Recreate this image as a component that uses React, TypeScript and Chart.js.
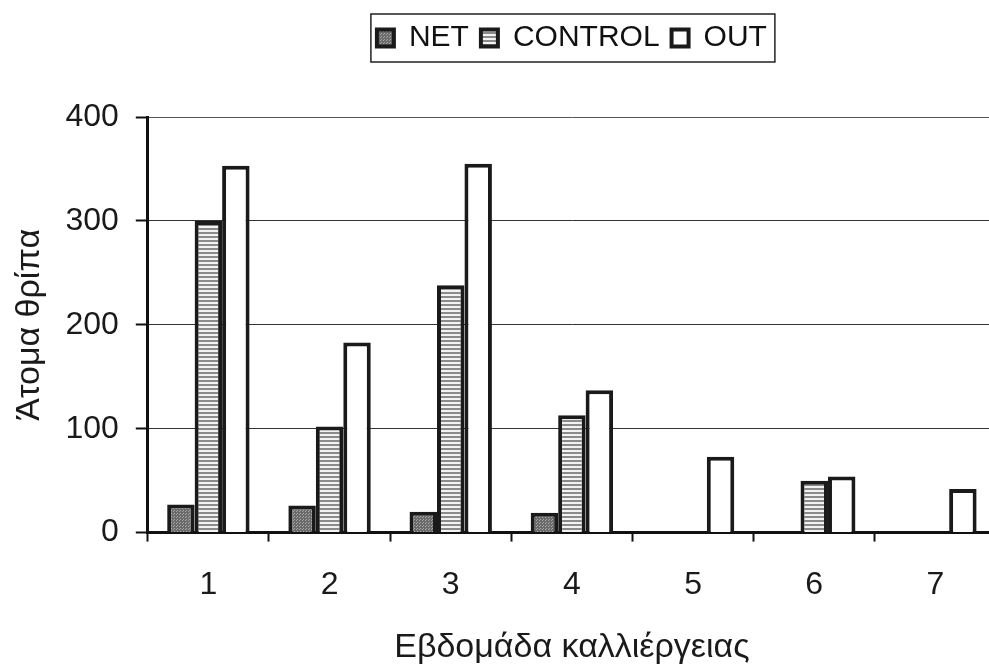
import React, { useEffect, useRef } from "react";
import { Chart, registerables } from "chart.js";

Chart.register(...registerables);

const categories = ["1", "2", "3", "4", "5", "6", "7"];
const seriesNames = ["NET", "CONTROL", "OUT"];
const netValues = [27, 26, 20, 19, 0, 0, 0];
const controlValues = [300, 102, 238, 113, 0, 50, 0];
const outValues = [353, 183, 355, 137, 73, 54, 42];
const yTicks = [0, 100, 200, 300, 400];
const yTitle = "Άτομα θρίπα";
const xTitle = "Εβδομάδα καλλιέργειας";

const FONT = "'Liberation Sans', Arial, sans-serif";

function makePattern(w: number, h: number, draw: (ctx: CanvasRenderingContext2D) => void) {
  const c = document.createElement("canvas");
  c.width = w;
  c.height = h;
  const ctx = c.getContext("2d")!;
  draw(ctx);
  return ctx.createPattern(c, "repeat") as CanvasPattern;
}

const nz = (arr: number[]) => arr.map((v) => (v === 0 ? null : v));

const legendBoxPlugin = {
  id: "legendBox",
  afterDraw(chart: any) {
    const lg = chart.legend;
    if (!lg || !lg.legendHitBoxes || !lg.legendHitBoxes.length) return;
    const boxes = lg.legendHitBoxes;
    const left = boxes[0].left - 6;
    const last = boxes[boxes.length - 1];
    const right = last.left + last.width + 8;
    const top = boxes[0].top - 9;
    const bottom = boxes[0].top + boxes[0].height + 9;
    const ctx = chart.ctx;
    ctx.save();
    ctx.strokeStyle = "#222";
    ctx.lineWidth = 1.5;
    ctx.strokeRect(left, top, right - left, bottom - top);
    ctx.restore();
  },
};

export default function App() {
  const ref = useRef<HTMLCanvasElement>(null);
  useEffect(() => {
    if (!ref.current) return;
    const netPattern = makePattern(3, 3, (ctx) => {
      ctx.fillStyle = "#6a6a6a";
      ctx.fillRect(0, 0, 3, 3);
      ctx.fillStyle = "#a8a8a8";
      ctx.fillRect(0, 0, 1, 1);
      ctx.fillRect(2, 1, 1, 1);
    });
    const controlPattern = makePattern(4, 4, (ctx) => {
      ctx.fillStyle = "#f2f2f2";
      ctx.fillRect(0, 0, 4, 4);
      ctx.fillStyle = "#8a8a8a";
      ctx.fillRect(0, 0, 4, 2);
    });
    const chart = new Chart(ref.current, {
      type: "bar",
      data: {
        labels: categories,
        datasets: [
          { label: seriesNames[0], data: nz(netValues), backgroundColor: netPattern, borderColor: "#1a1a1a", borderWidth: 4 },
          { label: seriesNames[1], data: nz(controlValues), backgroundColor: controlPattern, borderColor: "#1a1a1a", borderWidth: 4 },
          { label: seriesNames[2], data: nz(outValues), backgroundColor: "#ffffff", borderColor: "#1a1a1a", borderWidth: 4 },
        ],
      },
      options: {
        animation: false,
        responsive: false,
        maintainAspectRatio: false,
        layout: { padding: { top: 11, left: 11, right: 10, bottom: 1 } },
        datasets: { bar: { categoryPercentage: 0.68, barPercentage: 1 } } as any,
        plugins: {
          tooltip: { enabled: false },
          legend: {
            position: "top",
            fullSize: false,
            labels: {
              font: { family: FONT, size: 30 },
              color: "#111",
              boxWidth: 17,
              boxHeight: 17,
              padding: 12,
            },
          },
          title: {
            display: true,
            text: "",
            weight: 500,
            position: "top",
            fullSize: false,
            font: { size: 54, lineHeight: 1 },
            padding: 0,
          } as any,
        },
        scales: {
          x: {
            grid: { drawOnChartArea: false, drawTicks: true, tickLength: 9, tickWidth: 2, tickColor: "#111" },
            border: { color: "#111", width: 3 },
            ticks: { font: { family: FONT, size: 32, lineHeight: 1.2 }, color: "#1a1a1a", padding: 24 },
            title: { display: true, text: xTitle, font: { family: FONT, size: 34, lineHeight: 1 }, color: "#1a1a1a", padding: { top: 3, bottom: 0 } },
          },
          y: {
            min: 0,
            max: 400,
            afterBuildTicks: (axis: any) => {
              axis.ticks = yTicks.map((v) => ({ value: v }));
            },
            grid: {
              color: (c: any) => (c.tick && c.tick.value === 400 ? "#555" : "#333"),
              lineWidth: 1,
              drawTicks: true,
              tickLength: 12,
              tickWidth: 2,
              tickColor: "#111",
            },
            border: { color: "#111", width: 3 },
            ticks: { font: { family: FONT, size: 32 }, color: "#1a1a1a", padding: 17 },
            title: { display: true, text: yTitle, font: { family: FONT, size: 34, lineHeight: 1.1 }, color: "#1a1a1a", padding: { top: 0, bottom: 0 } },
          },
        },
      },
      plugins: [legendBoxPlugin],
    });
    return () => chart.destroy();
  }, []);
  return (
    <div style={{ position: "fixed", left: 0, top: 0, width: 989, height: 666, overflow: "hidden", background: "#fff" }}>
      <canvas ref={ref} width={1006} height={666} style={{ display: "block", width: 1006, height: 666 }} />
    </div>
  );
}
